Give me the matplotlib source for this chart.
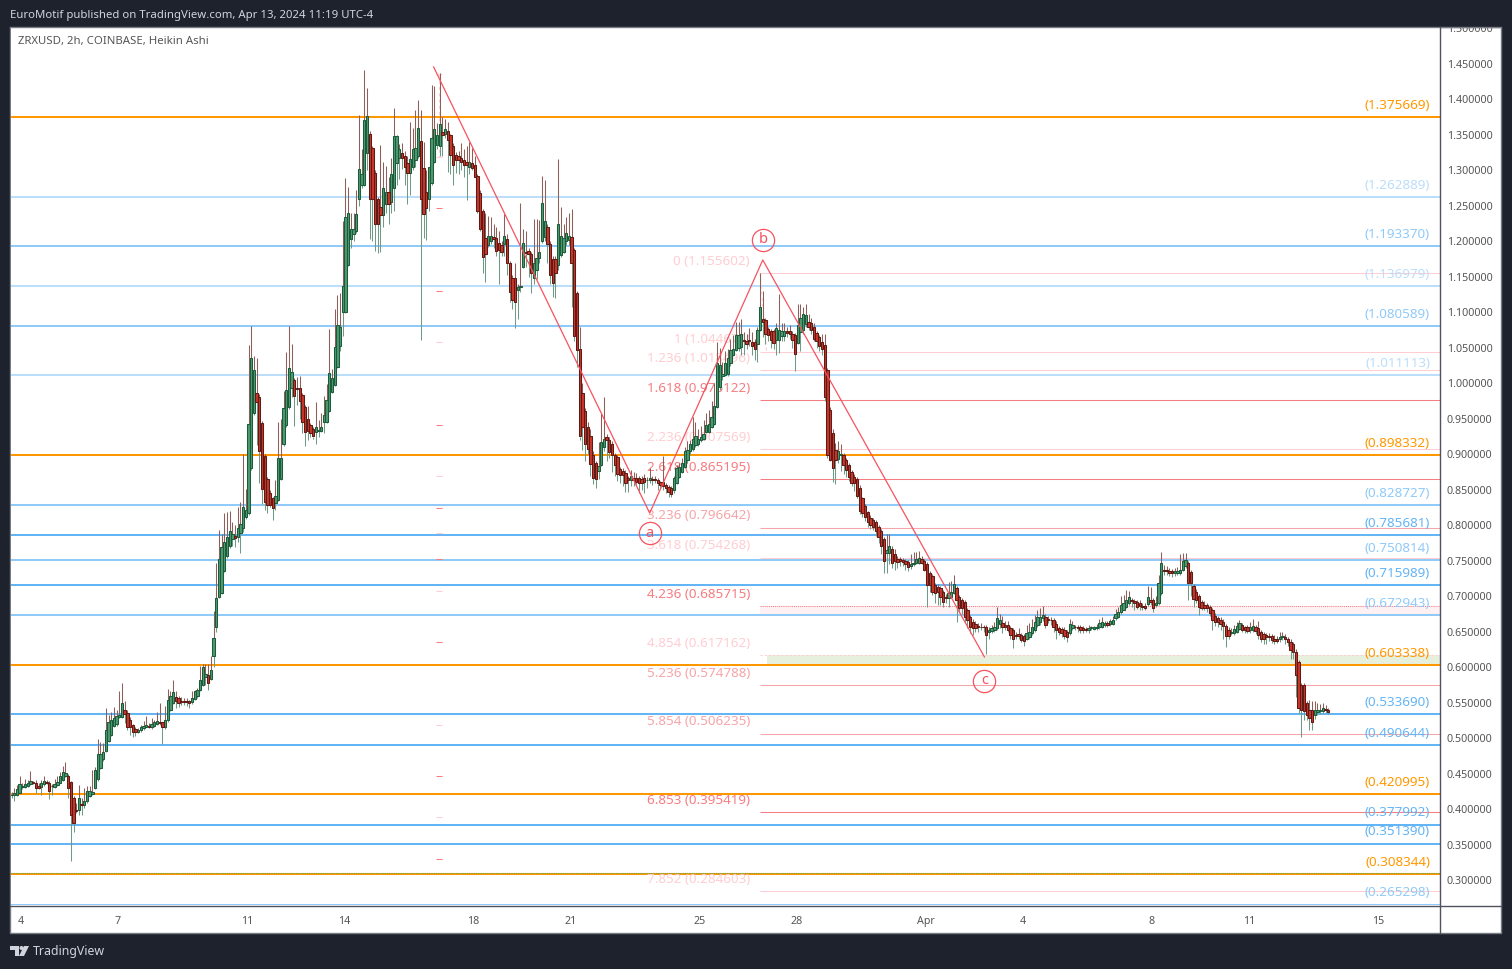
import numpy as np
import pandas as pd
import matplotlib
matplotlib.use("Agg")
import matplotlib.pyplot as plt
import matplotlib.dates as mdates
from matplotlib.patches import Rectangle, Polygon, Circle
from matplotlib.transforms import offset_copy

plt.rcParams['font.family'] = ['Noto Sans', 'DejaVu Sans']

# ---------- data: Heikin Ashi bars, thousandths of a dollar, 2h apart ----------
bar_start = "2024-03-03 17:00"
opens = [
420,420,420,423,431,431,433,435,438,437, 433,431,435,438,437,433,431,434,437,441,
447,447,438,415,399,398,407,406,411,419, 421,429,442,458,470,482,496,504,517,520,
530,530,539,536,526,518,513,509,512,514, 516,517,515,517,520,522,522,515,525,540,
550,558,556,552,552,552,552,551,555,560, 568,575,586,589,583,615,656,699,705,736,
756,770,781,785,784,789,796,811,817,880, 958,987,981,944,897,865,846,838,831,836,
865,914,941,966,994,1005,994,993,984,966, 949,941,935,932,933,933,946,946,961,988,
998,1023,1052,1100,1101,1167,1204,1211,1214,1259, 1280,1280,1325,1351,1331,1296,1260,1249,1237,1252,
1270,1255,1275,1311,1318,1325,1320,1311,1297,1305, 1315,1320,1342,1303,1270,1259,1282,1312,1336,1335,
1354,1352,1355,1350,1335,1322,1320,1317,1315,1312, 1305,1310,1307,1292,1268,1243,1205,1195,1200,1206,
1205,1197,1195,1196,1203,1169,1148,1148,1131,1135, 1164,1185,1186,1182,1149,1159,1176,1201,1206,1220,
1196,1175,1175,1166,1181,1185,1200,1202,1206,1188, 1127,1048,986,961,939,925,899,887,877,885,
910,924,920,915,899,896,879,877,874,866, 864,866,866,866,865,866,863,864,865,865,
864,861,861,857,854,852,850,860,868,875, 882,892,905,908,913,915,920,922,932,932,
939,943,967,995,1010,1012,1013,1028,1040,1047, 1050,1051,1061,1060,1061,1058,1058,1056,1075,1090,
1089,1077,1073,1073,1061,1061,1067,1067,1073,1073, 1070,1068,1057,1072,1075,1084,1087,1085,1080,1071,
1065,1058,1054,1019,963,930,906,893,899,899, 892,885,875,868,865,853,838,827,818,810,
807,804,798,792,780,761,761,766,759,753, 752,751,750,748,743,745,747,747,752,750,
745,732,728,716,713,711,706,699,698,699, 705,711,699,695,692,680,670,664,661,658,
657,657,657,650,651,652,655,661,662,660, 659,655,652,645,646,645,644,640,643,648,
653,659,664,669,671,668,667,666,661,655, 654,652,650,648,655,657,657,656,655,654,
652,655,654,655,656,657,660,662,661,661, 669,671,678,681,685,690,694,693,692,690,
686,686,689,695,695,688,690,704,737,737, 735,735,733,733,733,737,742,747,734,714,
706,700,692,687,687,685,680,672,669, 667,664,658,652,648,648,650,654,659,656,
656,652,653,657,655,650,647,645,644,644, 640,639,639,642,643,639,636,633,622,607,
575,575,549,539,539,532,537,538,538,541, 540]
closes = [
420,423,428,435,433,435,437,439,437,429, 430,436,440,437,426,432,435,438,446,452,
451,430,391,381,397,415,406,411,426,426, 424,455,477,477,480,512,522,525,529,531,
532,549,534,516,515,508,509,511,515,517, 519,516,520,522,524,521,515,525,554,559,
565,552,549,551,551,551,550,556,566,568, 582,600,591,577,596,641,698,753,769,776,
784,792,788,782,796,801,825,822,943,1035, 1019,974,905,851,832,829,829,824,841,894,
894,965,991,1021,1016,982,992,975,946,932, 933,930,925,938,934,939,955,976,1015,1007,
1051,1082,1079,1137,1234,1240,1218,1217,1238,1302, 1295,1371,1377,1260,1260,1225,1225,1237,1275,1270,
1252,1295,1348,1348,1330,1317,1305,1297,1316,1330, 1332,1360,1260,1239,1247,1305,1345,1358,1350,1366,
1350,1358,1343,1322,1308,1315,1315,1312,1307,1307, 1312,1303,1291,1243,1218,1178,1182,1207,1208,1203,
1187,1188,1185,1208,1169,1129,1118,1114,1135,1137, 1198,1183,1182,1156,1170,1176,1185,1254,1228,1196,
1153,1141,1155,1224,1208,1205,1212,1207,1170,1066, 1047,925,939,915,908,886,866,865,883,917,
922,920,903,899,885,872,871,871,860,863, 869,864,861,860,860,861,864,866,864,864,
859,856,855,853,847,844,866,880,882,887, 904,906,915,921,925,922,925,929,941,943,
953,968,1028,1026,1013,1028,1035,1047,1049,1068, 1068,1069,1059,1055,1059,1052,1048,1075,1108,1087,
1070,1068,1061,1057,1078,1075,1074,1073,1071,1070, 1061,1041,1082,1092,1097,1096,1080,1075,1063,1060,
1052,1048,981,899,892,880,892,904,901,885, 878,868,860,860,841,820,817,812,804,800,
798,792,784,770,749,765,771,747,749,748, 749,748,745,741,746,747,752,754,747,737,
716,716,706,705,706,699,692,697,705,706, 717,695,683,684,671,666,657,655,655,656,
656,656,645,653,655,657,669,667,657,657, 653,645,639,644,644,638,637,648,650,656,
663,671,671,674,659,667,666,657,652,650, 648,644,643,661,660,656,655,653,653,652,
655,656,656,657,662,663,662,660,665,666, 675,678,688,691,695,699,693,690,685,686,
685,684,699,692,684,690,718,747,735,735, 733,732,735,736,737,750,751,719,718,696,
694,685,684,684,683,676,667,663,663, 661,658,644,644,650,654,658,662,653,652,
651,657,658,651,645,640,640,643,642,638, 637,637,643,644,639,636,624,622,589,542,
539,538,532,528,523,539,540,540,543,540, 537]
highs = [
424,429,434,446,437,443,441,453,440,441, 436,441,447,441,439,435,442,446,452,460,
466,450,440,418,409,434,416,430,433,433, 455,459,499,495,493,542,532,537,544,540,
566,578,552,540,530,520,515,514,518,524, 531,521,528,526,537,549,523,545,569,566,
582,566,560,558,557,557,554,566,568,570, 601,605,605,605,615,679,747,793,788,817,
818,820,804,800,825,833,901,851,1054,1081, 1038,1036,985,947,900,868,850,840,863,945,
950,989,1044,1081,1055,1008,1009,1010,987,970, 968,944,938,974,948,958,982,999,1077,1020,
1104,1124,1127,1228,1289,1277,1240,1240,1273,1378, 1330,1441,1416,1355,1335,1300,1263,1336,1312,1306,
1290,1317,1388,1350,1337,1338,1328,1320,1368,1360, 1385,1399,1385,1340,1300,1305,1420,1419,1367,1437,
1375,1373,1368,1352,1338,1326,1328,1338,1330,1335, 1340,1332,1320,1295,1272,1246,1240,1236,1235,1225,
1220,1214,1200,1238,1210,1172,1152,1170,1140,1254, 1218,1215,1190,1185,1232,1232,1230,1292,1287,1225,
1200,1180,1179,1316,1248,1225,1235,1240,1245,1190, 1130,1080,1000,965,945,935,905,890,917,957,
980,928,924,918,902,899,882,880,878,870, 878,875,873,870,870,872,868,880,870,870,
866,862,897,860,857,855,870,885,888,895, 910,918,920,953,945,935,940,948,958,963,
975,1000,1058,1050,1030,1045,1048,1062,1068,1087, 1086,1091,1072,1070,1078,1072,1062,1080,1155,1130,
1092,1080,1076,1076,1085,1126,1085,1085,1080,1082, 1073,1071,1112,1112,1108,1112,1098,1092,1085,1074,
1068,1070,1070,1022,966,935,916,918,915,902, 895,888,878,872,868,857,840,830,820,814,
810,807,800,795,783,787,787,770,766,757, 755,754,753,751,760,762,762,763,757,753,
748,735,731,719,717,714,709,703,720,722, 730,714,702,698,695,684,673,668,665,662,
662,660,659,656,660,664,685,675,672,665, 665,658,655,650,655,648,647,660,662,668,
673,680,684,686,675,672,670,669,665,658, 657,656,653,668,665,660,660,659,658,657,
660,658,658,661,668,670,665,665,668,672, 682,685,700,702,708,707,698,696,695,694,
690,690,715,713,697,700,730,762,744,742, 740,738,740,741,760,761,761,750,737,717,
710,703,695,693,690,688,684,676,672, 670,668,661,656,655,660,663,667,662,658,
660,664,668,660,665,653,650,648,648,647, 645,644,650,650,647,643,640,636,626,610,
578,578,552,553,552,552,550,548,549,546, 542]
lows = [
416,412,419,422,428,430,431,434,435,422, 428,420,432,435,414,420,430,432,436,440,
445,416,327,367,395,391,391,402,408,417, 420,428,440,457,468,480,494,503,515,517,
528,528,521,512,504,502,503,507,508,512, 515,514,513,516,518,518,492,513,523,538,
548,542,544,546,546,545,542,548,553,556, 566,573,575,568,582,600,650,697,703,734,
754,768,770,769,776,761,790,809,815,878, 956,913,859,830,821,817,825,807,821,834,
863,912,939,964,980,940,970,950,930,912, 920,925,922,915,925,931,930,944,959,986,
996,1021,1045,1066,1099,1165,1190,1200,1212,1250, 1275,1278,1300,1203,1200,1186,1184,1185,1220,1240,
1224,1240,1243,1280,1288,1302,1280,1252,1265,1300, 1305,1318,1061,1205,1202,1243,1280,1310,1330,1320,
1320,1345,1298,1295,1280,1297,1295,1300,1290,1258, 1295,1300,1290,1240,1215,1155,1143,1192,1196,1190,
1180,1140,1180,1180,1152,1115,1105,1078,1090,1128, 1162,1164,1150,1127,1140,1147,1170,1198,1200,1170,
1140,1122,1120,1160,1178,1183,1195,1195,1108,1060, 1023,920,906,890,900,870,858,852,865,883,
905,890,895,875,870,862,860,855,847,847, 855,855,857,846,850,845,853,860,857,860,
850,852,850,845,840,840,846,858,866,873, 880,888,900,905,910,912,917,920,930,930,
937,941,965,990,1005,1010,1010,1025,1038,1045, 1045,1040,1040,1048,1052,1040,1033,1030,1073,1065,
1055,1060,1050,1048,1040,1043,1060,1060,1065,1063, 1050,1018,1055,1045,1070,1080,1075,1070,1060,1050,
1045,1040,975,895,890,861,858,887,876,872, 868,862,855,848,838,816,812,806,797,795,
793,785,775,760,732,732,745,740,737,740, 743,742,737,735,738,742,745,745,745,735,
685,706,702,690,688,687,685,690,685,697, 703,663,679,675,663,655,648,645,650,650,
652,650,618,640,648,650,652,655,648,652, 650,640,627,640,640,635,630,638,640,645,
650,657,660,665,655,662,660,650,640,645, 642,640,636,645,652,652,650,648,648,650,
648,652,652,652,654,655,657,657,658,659, 667,669,675,680,683,688,685,680,682,680,
680,680,686,688,678,685,688,702,730,730, 728,727,728,730,730,735,740,695,700,685,
690,673,680,680,678,672,653,658,656, 652,640,628,640,645,645,648,652,650,648,
648,648,650,646,640,635,632,632,637,634, 632,634,635,638,632,630,612,611,558,536,
501,525,525,511,512,527,533,534,535,536, 534]

# support / resistance levels
level_prices = [1.375669,1.262889,1.193370,1.136979,1.080589,1.011113,0.898332,0.828727,0.785681,0.750814,
                0.715989,0.672943,0.603338,0.533690,0.490644,0.420995,0.377992,0.351390,0.308344,0.265298]
level_colors = ['#ff9800','#bbdefb','#90caf9','#bbdefb','#90caf9','#bbdefb','#ff9800','#90caf9','#64b5f6','#90caf9',
                '#64b5f6','#90caf9','#ff9800','#64b5f6','#64b5f6','#ff9800','#64b5f6','#64b5f6','#ff9800','#90caf9']

# fib extension levels
fib_ratios = ['0','1','1.236','1.618','2.236','2.618','3.236','3.618','4.236','4.854','5.236','5.854','6.853','7.852']
fib_prices = [1.155602,1.044674,1.018496,0.976122,0.907569,0.865195,0.796642,0.754268,0.685715,0.617162,0.574788,0.506235,0.395419,0.284603]
fib_colors = ['#ffcdd2','#ffcdd2','#ffcdd2','#f77c80','#ffcdd2','#f77c80','#f7a5a8','#ffcdd2','#f77c80','#ffcdd2','#f7a5a8','#f7a5a8','#f77c80','#ffcdd2']
fib_styles = ['-','-','-','-','-','-','-','-',(0,(1,1)),(0,(2,2)),'-','-','-','-']
fib_start = "2024-03-26 21:00"

# small fib dashes left of the wave
dash_pale = [1.436,1.319,1.058,0.869,0.789,0.707,0.518,0.389]
dash_strong = [1.247,1.130,0.941,0.824,0.752,0.635,0.447,0.330]
dash_from, dash_to = "2024-03-16 20:00", "2024-03-17 01:00"

# wave zigzag
wave_times = ["2024-03-16 18:30","2024-03-23 11:00","2024-03-26 23:00","2024-04-02 19:40"]
wave_prices = [1.4458,0.817,1.1738,0.6143]
wave_names = ['a','b','c']

tick_dates = ["2024-03-04","2024-03-07","2024-03-11","2024-03-14","2024-03-18","2024-03-21","2024-03-25","2024-03-28",
              "2024-04-01","2024-04-04","2024-04-08","2024-04-11","2024-04-15"]
tick_names = ['4','7','11','14','18','21','25','28','Apr','4','8','11','15']
price_ticks = [round(0.30+0.05*k,2) for k in range(25)]

# ---------- layout ----------
W, H = 1512, 969
DARK = '#1e222d'
fig = plt.figure(figsize=(W/100, H/100), dpi=100, facecolor=DARK)

px_day = 32.31
px_price = 709.6
base = mdates.date2num(pd.Timestamp("2024-03-04"))
xl = base + (11-21)/px_day
xr = base + (1440-21)/px_day
yb = 0.30 - (905-880)/px_price
yt = 0.30 + (880-27)/px_price

bg = fig.add_axes([0,0,1,1], zorder=-1)
bg.set_xlim(0,W); bg.set_ylim(H,0); bg.axis('off')
bg.add_patch(Rectangle((10,27),1491,906,fc='white',ec='#787b86',lw=1))

ax = fig.add_axes([11/W,(H-905)/H,1429/W,878/H], facecolor='white')
for s in ax.spines.values():
    s.set_visible(False)
ax.set_xlim(xl,xr); ax.set_ylim(yb,yt)

n = min(len(opens),len(closes),len(highs),len(lows))
t = mdates.date2num(pd.date_range(bar_start, periods=n, freq='2h'))
o,c,h,l = [np.array(a[:n])/1000 for a in (opens,closes,highs,lows)]
top = np.maximum(o,c); bot = np.minimum(o,c)
ax.vlines(t,top,h,color='#8e5e59',lw=0.75,zorder=4)
ax.vlines(t,l,bot,color='#6f9a85',lw=0.75,zorder=4)
up = c>=o
ax.bar(t[up],(c-o)[up],bottom=o[up],width=0.072,color='#4f9a70',edgecolor='#1c5b3b',lw=0.75,zorder=5)
ax.bar(t[~up],(o-c)[~up],bottom=c[~up],width=0.072,color='#c8372b',edgecolor='#5e1a14',lw=0.75,zorder=5)

# levels
for p,col in zip(level_prices,level_colors):
    ax.axhline(p,color=col,lw=1.45,zorder=2)
    ax.annotate(f"({p:.6f})",xy=(1419/1429,p),xycoords=('axes fraction','data'),xytext=(0,8.4),
                textcoords='offset points',ha='right',va='center',color=col,fontsize=9.7,zorder=3)
ax.axhline(level_prices[-2]+0.002,color='#6aa84f',lw=0.8,ls=(0,(1,1)),zorder=2.1)

# fibs
fx = mdates.date2num(pd.Timestamp(fib_start))
for r,p,col,ls in zip(fib_ratios,fib_prices,fib_colors,fib_styles):
    ax.hlines(p,fx,xr,color=col,lw=0.75,ls=ls,zorder=2.5)
    ax.annotate(f"{r} ({p:.6f})",xy=(739/1429,p),xycoords=('axes fraction','data'),xytext=(0,8.4),
                textcoords='offset points',ha='right',va='center',color=col,fontsize=9.7,zorder=3)
bx = mdates.date2num(pd.Timestamp("2024-03-27 02:30"))
ax.fill_between([bx,xr],fib_prices[9],level_prices[12],color='#e6f0dc',lw=0,zorder=1)
ax.fill_between([fx,xr],level_prices[11],fib_prices[8],color='#fdf1f3',lw=0,zorder=1)

d0,d1 = mdates.date2num(pd.Timestamp(dash_from)),mdates.date2num(pd.Timestamp(dash_to))
ax.hlines(dash_pale,d0,d1,color='#ffcdd2',lw=0.75,zorder=2.5)
ax.hlines(dash_strong,d0,d1,color='#f77c80',lw=0.75,zorder=2.5)
mid=(d0+d1)/2
ax.plot([mid,mid],[dash_pale[0],1.319],color='#ffcdd2',lw=0.75,ls=(0,(3,3)),zorder=2.5)
ax.plot([fx,fx+0.2],[fib_prices[0],fib_prices[1]],color='#ffcdd2',lw=0.75,ls=(0,(3,3)),zorder=3)

# wave
RED='#f7525f'
wt = mdates.date2num(pd.to_datetime(wave_times))
ax.plot(wt,wave_prices,color=RED,lw=0.9,zorder=6)
for name,x,y,off in zip(wave_names,wt[1:],wave_prices[1:],(-20,20,-24)):
    tr = offset_copy(ax.transData,fig=fig,x=0,y=off,units='dots')
    ax.plot([x],[y],marker='o',ms=16,mfc='none',mec=RED,mew=0.9,transform=tr,zorder=6,clip_on=False)
    ax.text(x,y,name,transform=tr,ha='center',va='center',color=RED,fontsize=10.5,zorder=6)

# axes
ax.set_xticks(mdates.date2num(pd.to_datetime(tick_dates)))
ax.set_xticklabels(tick_names)
ax.yaxis.tick_right()
ax.set_yticks(price_ticks)
ax.set_yticklabels([f"{p:.6f}" for p in price_ticks])
ax.tick_params(axis='both',length=0,labelcolor='#555555',labelsize=7.7)
ax.tick_params(axis='x',pad=7.7)
ax.tick_params(axis='y',pad=5)
ax.text(7/1429,1-14.5/878,"ZRXUSD, 2h, COINBASE, Heikin Ashi",transform=ax.transAxes,ha='left',va='center',
        color='#555555',fontsize=8.2,zorder=7)

# overlay furniture
ov = fig.add_axes([0,0,1,1], zorder=5)
ov.set_xlim(0,W); ov.set_ylim(H,0); ov.axis('off')
ov.add_patch(Rectangle((0,0),W,27,fc=DARK,ec='none'))
ov.plot([10,1501],[27,27],color='#787b86',lw=1)
ov.plot([1440,1440],[27,933],color='#50535e',lw=1)
ov.plot([10,1501],[905.5,905.5],color='#50535e',lw=1)
ov.text(10,15,"EuroMotif published on TradingView.com, Apr 13, 2024 11:19 UTC-4",color='#d1d4dc',fontsize=8.2,
        ha='left',va='center',fontweight='medium')
ov.text(33,951.5,"TradingView",color='#d1d4dc',fontsize=8.9,ha='left',va='center')
ov.add_patch(Polygon([(10,946),(19,946),(19,956),(14.5,956),(14.5,950),(10,950)],fc='#d1d4dc',ec='none'))
ov.add_patch(Circle((21.5,948),2,fc='#d1d4dc',ec='none'))
ov.add_patch(Polygon([(24,946),(29,946),(24,956),(19,956)],fc='#d1d4dc',ec='none'))

fig.savefig("out.png",dpi=100,facecolor=DARK)
